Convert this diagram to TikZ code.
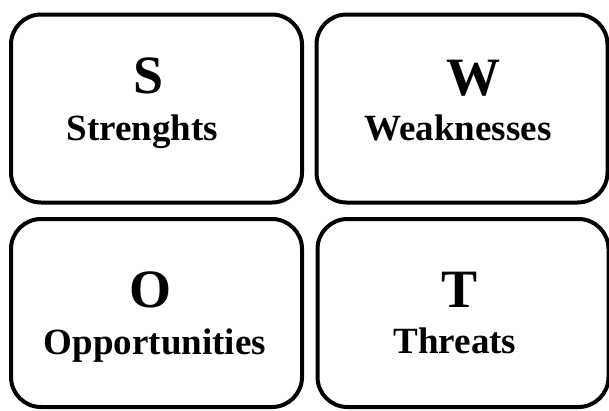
\documentclass[tikz,border=0pt]{standalone}
\usepackage{fontspec}
\setmainfont{Liberation Serif}
\usetikzlibrary{positioning}

\begin{document}
\begin{tikzpicture}[x=1pt, y=-1pt, line width=4pt,
  quad/.style={draw, rounded corners=30pt, minimum width=291pt, minimum height=188pt, inner sep=0pt},
  initial/.style={font=\fontsize{54}{54}\selectfont\bfseries, anchor=base, inner sep=0pt},
  word/.style={font=\fontsize{37}{37}\selectfont\bfseries, anchor=base, inner sep=0pt}]
\useasboundingbox (0,0) rectangle (609,410);
% the four quadrants
\node[quad] (qS) at (156.5,108.5) {};
\node[quad] (qW) at (462,108.5) {};
\node[quad] (qO) at (156.5,313) {};
\node[quad] (qT) at (463,313) {};
% initials and names
\node[initial] (iS) at (149,93) {S};
\node[word]    (nS) at (142.5,140) {Strenghts};
\node[initial] (iW) at (473,95) {W};
\node[word]    (nW) at (458,140) {Weaknesses};
\node[initial] (iO) at (150,307) {O};
\node[word]    (nO) at (155,354) {Opportunities};
\node[initial] (iT) at (459.5,307) {T};
\node[word]    (nT) at (455,353) {Threats};
\end{tikzpicture}
\end{document}
